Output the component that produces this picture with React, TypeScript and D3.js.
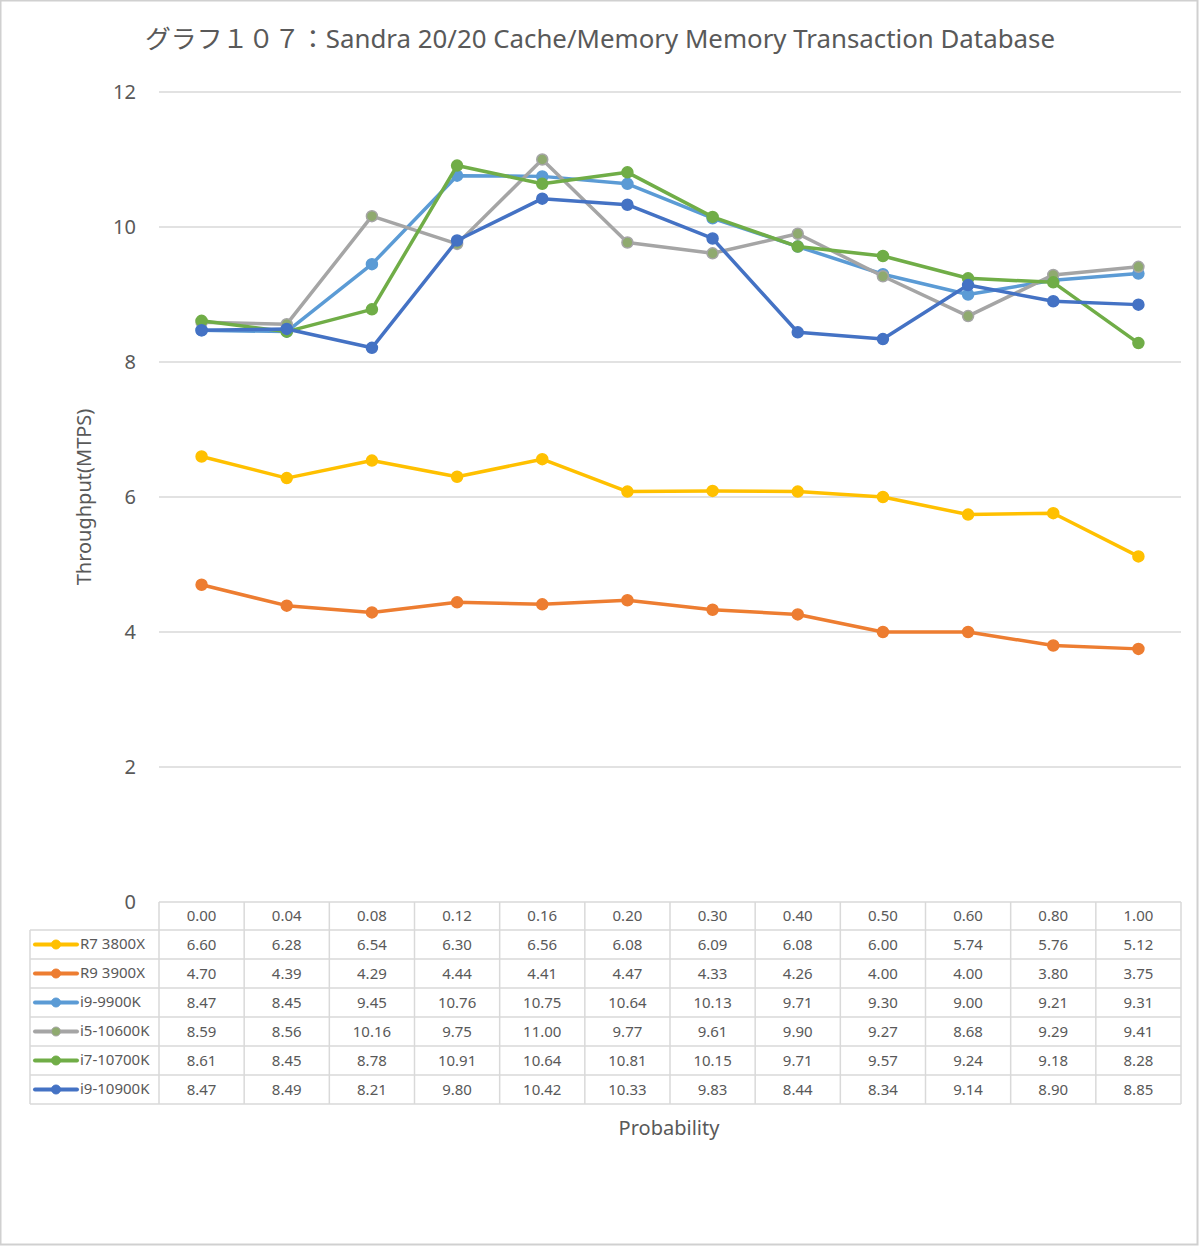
import React from "react";
import * as d3 from "d3";

const categories = ["0.00", "0.04", "0.08", "0.12", "0.16", "0.20", "0.30", "0.40", "0.50", "0.60", "0.80", "1.00"];
const seriesNames = ["R7 3800X", "R9 3900X", "i9-9900K", "i5-10600K", "i7-10700K", "i9-10900K"];
const r7 = [6.60, 6.28, 6.54, 6.30, 6.56, 6.08, 6.09, 6.08, 6.00, 5.74, 5.76, 5.12];
const r9 = [4.70, 4.39, 4.29, 4.44, 4.41, 4.47, 4.33, 4.26, 4.00, 4.00, 3.80, 3.75];
const i9_9900k = [8.47, 8.45, 9.45, 10.76, 10.75, 10.64, 10.13, 9.71, 9.30, 9.00, 9.21, 9.31];
const i5_10600k = [8.59, 8.56, 10.16, 9.75, 11.00, 9.77, 9.61, 9.90, 9.27, 8.68, 9.29, 9.41];
const i7_10700k = [8.61, 8.45, 8.78, 10.91, 10.64, 10.81, 10.15, 9.71, 9.57, 9.24, 9.18, 8.28];
const i9_10900k = [8.47, 8.49, 8.21, 9.80, 10.42, 10.33, 9.83, 8.44, 8.34, 9.14, 8.90, 8.85];
const seriesValues = [r7, r9, i9_9900k, i5_10600k, i7_10700k, i9_10900k];
const lineColors = ["#FFC000", "#ED7D31", "#5B9BD5", "#A5A5A5", "#70AD47", "#4472C4"];
const markerFills = ["#FFC000", "#ED7D31", "#5B9BD5", "#8FAA6F", "#70AD47", "#4472C4"];
const yTicks = [0, 2, 4, 6, 8, 10, 12];

const W = 1200;
const H = 1246;
const plotLeft = 159;
const plotRight = 1181;
const plotTop = 92;
const plotBottom = 902;
const rowH = 29;
const headerH = 28;
const legendLeft = 30;
const font = "'Noto Sans', 'Noto Sans CJK JP', sans-serif";

export default function App() {
  const x = d3.scaleBand<string>().domain(categories).range([plotLeft, plotRight]);
  const y = d3.scaleLinear().domain([0, 12]).range([plotBottom, plotTop]);
  const line = d3
    .line<number>()
    .x((_, i) => (x(categories[i]) as number) + x.bandwidth() / 2)
    .y((d) => y(d));

  const tableBottom = plotBottom + headerH + rowH * seriesNames.length;
  const gridColor = "#D9D9D9";

  return (
    <svg width={W} height={H} style={{ position: "absolute", left: 0, top: 0 }}>
      <rect x={0.5} y={0.5} width={W - 3} height={H - 2} fill="#fff" stroke="#D0D0D0" strokeWidth={2} />
      <text
        x={600}
        y={48}
        textAnchor="middle"
        fontFamily={font}
        fontSize={25}
        fill="#595959"
        textLength={910}
        lengthAdjust="spacingAndGlyphs"
      >
        グラフ１０７：Sandra 20/20 Cache/Memory Memory Transaction Database
      </text>
      {yTicks.map((t) => (
        <g key={t}>
          {t > 0 && (
            <line x1={plotLeft} x2={plotRight} y1={y(t)} y2={y(t)} stroke={gridColor} strokeWidth={1.5} />
          )}
          <text x={136} y={y(t) + 7} textAnchor="end" fontFamily={font} fontSize={20} fill="#595959">
            {t}
          </text>
        </g>
      ))}
      <text
        transform={`translate(91,${(plotTop + plotBottom) / 2 + 0}) rotate(-90)`}
        textAnchor="middle"
        fontFamily={font}
        fontSize={20}
        fill="#595959"
      >
        Throughput(MTPS)
      </text>

      {/* table grid */}
      <g stroke={gridColor} strokeWidth={1.5}>
        <line x1={plotLeft} x2={plotRight} y1={plotBottom} y2={plotBottom} />
        {seriesNames.map((_, i) => (
          <line
            key={"h" + i}
            x1={legendLeft}
            x2={plotRight}
            y1={plotBottom + headerH + rowH * i}
            y2={plotBottom + headerH + rowH * i}
          />
        ))}
        <line x1={legendLeft} x2={plotRight} y1={tableBottom} y2={tableBottom} />
        <line x1={legendLeft} x2={legendLeft} y1={plotBottom + headerH} y2={tableBottom} />
        {categories.map((c) => (
          <line key={"v" + c} x1={x(c) as number} x2={x(c) as number} y1={plotBottom} y2={tableBottom} />
        ))}
        <line x1={plotRight} x2={plotRight} y1={plotBottom} y2={tableBottom} />
      </g>
      {categories.map((c) => (
        <text
          key={"c" + c}
          x={(x(c) as number) + x.bandwidth() / 2}
          y={plotBottom + headerH / 2 + 5}
          textAnchor="middle"
          fontFamily={font}
          fontSize={15}
          fill="#595959"
        >
          {c}
        </text>
      ))}
      {seriesNames.map((name, si) => {
        const rowY = plotBottom + headerH + rowH * si;
        const cy = rowY + rowH / 2;
        return (
          <g key={"r" + name}>
            <line x1={35} x2={77} y1={cy} y2={cy} stroke={lineColors[si]} strokeWidth={4} strokeLinecap="round" />
            <circle cx={56} cy={cy} r={4.5} fill={markerFills[si]} stroke={lineColors[si]} strokeWidth={1} />
            <text x={80} y={cy + 4} fontFamily={font} fontSize={15} fill="#595959">
              {name}
            </text>
            {seriesValues[si].map((v, i) => (
              <text
                key={i}
                x={(x(categories[i]) as number) + x.bandwidth() / 2}
                y={cy + 5}
                textAnchor="middle"
                fontFamily={font}
                fontSize={15}
                fill="#595959"
              >
                {v.toFixed(2)}
              </text>
            ))}
          </g>
        );
      })}

      {/* series */}
      {seriesValues.map((vals, si) => (
        <g key={"s" + si}>
          <path d={line(vals) as string} fill="none" stroke={lineColors[si]} strokeWidth={3.5} strokeLinejoin="round" strokeLinecap="round" />
          {vals.map((v, i) => (
            <circle
              key={i}
              cx={(x(categories[i]) as number) + x.bandwidth() / 2}
              cy={y(v)}
              r={5.5}
              fill={markerFills[si]}
              stroke={lineColors[si]}
              strokeWidth={1.5}
            />
          ))}
        </g>
      ))}

      <text x={669} y={1135} textAnchor="middle" fontFamily={font} fontSize={20} fill="#595959">
        Probability
      </text>
    </svg>
  );
}
